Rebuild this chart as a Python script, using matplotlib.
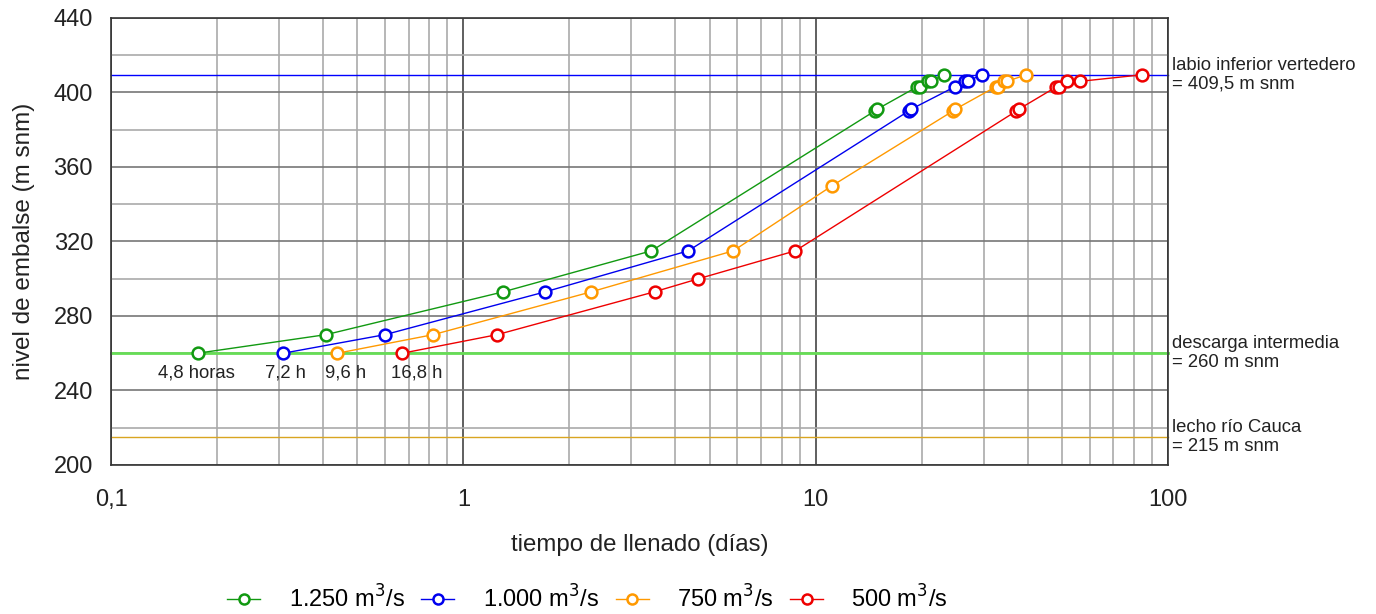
import matplotlib
matplotlib.use("Agg")
import matplotlib.pyplot as plt
from matplotlib.ticker import FixedLocator, FixedFormatter, NullFormatter

plt.rcParams['font.family'] = ['Liberation Sans', 'DejaVu Sans']

# ---------------- data ----------------
series_labels = ["1.250 m$^3$/s", "1.000 m$^3$/s", "750 m$^3$/s", "500 m$^3$/s"]
series_colors = ["#119911", "#0000ee", "#ff9900", "#ee0000"]

green_x = [0.176, 0.408, 1.30, 3.42, 14.70, 14.94, 19.40, 19.73, 20.9, 21.27, 23.08]
green_y = [260, 270, 293, 315, 390, 391, 403, 403, 406, 406, 409.5]

blue_x = [0.308, 0.600, 1.71, 4.35, 18.35, 18.66, 24.8, 26.5, 27.0, 29.6]
blue_y = [260, 270, 293, 315, 390, 391, 403, 406, 406, 409.5]

orange_x = [0.439, 0.822, 2.31, 5.84, 11.15, 24.5, 24.9, 32.4, 32.9, 34.3, 34.9, 39.6]
orange_y = [260, 270, 293, 315, 350, 390, 391, 403, 403, 406, 406, 409.5]

red_x = [0.671, 1.249, 3.49, 4.65, 8.76, 37.1, 37.7, 48.2, 49.0, 51.7, 56.4, 84.4]
red_y = [260, 270, 293, 300, 315, 390, 391, 403, 403, 406, 406, 409.5]

start_labels = ["4,8 horas", "7,2 h", "9,6 h", "16,8 h"]

ref_levels = [409.5, 260, 215]
ref_colors = ["#0000ff", "#66dd55", "#d9a521"]
ref_texts = ["labio inferior vertedero\n= 409,5 m snm",
             "descarga intermedia\n= 260 m snm",
             "lecho río Cauca\n= 215 m snm"]

x_ticks = [0.1, 1, 10, 100]
x_ticklabels = ["0,1", "1", "10", "100"]
y_ticks = [200, 240, 280, 320, 360, 400, 440]

# ---------------- figure ----------------
fig = plt.figure(figsize=(13.76, 6.14), dpi=100)
ax = fig.add_axes([0.0807, 0.2427, 0.7681, 0.728])
ax.set_xscale("log")
ax.set_xlim(0.1, 100)
ax.set_ylim(200, 440)

# grid
minor_x = [m * 10.0**e for e in (-1, 0, 1) for m in range(2, 10)]
ax.xaxis.set_major_locator(FixedLocator(x_ticks))
ax.xaxis.set_major_formatter(FixedFormatter(x_ticklabels))
ax.xaxis.set_minor_locator(FixedLocator(minor_x))
ax.xaxis.set_minor_formatter(NullFormatter())
ax.yaxis.set_major_locator(FixedLocator(y_ticks))
ax.yaxis.set_minor_locator(FixedLocator(list(range(220, 440, 40))))
ax.grid(which="major", axis="x", color="#444444", lw=1.2)
ax.grid(which="minor", axis="x", color="#aaaaaa", lw=1.2)
ax.grid(which="major", axis="y", color="#777777", lw=1.2)
ax.grid(which="minor", axis="y", color="#aaaaaa", lw=1.2)
ax.set_axisbelow(True)
for s in ax.spines.values():
    s.set_color("#333333")
    s.set_linewidth(1.2)
ax.tick_params(which="both", length=0)
ax.tick_params(axis="y", labelsize=17, pad=13, labelcolor="#222222")
ax.tick_params(axis="x", labelsize=17, pad=17, labelcolor="#222222")

# reference lines
for lvl, col, txt in zip(ref_levels, ref_colors, ref_texts):
    lw = 2.0 if lvl == 260 else 1.0
    ax.axhline(lvl, color=col, lw=lw, zorder=2, clip_on=False)
    ax.text(1.004, lvl, txt, transform=ax.get_yaxis_transform(), ha="left",
            va="center", fontsize=13.3, color="#222222", linespacing=1.15)

# series
all_x = [green_x, blue_x, orange_x, red_x]
all_y = [green_y, blue_y, orange_y, red_y]
handles = []
for xs, ys, col, lab in zip(all_x, all_y, series_colors, series_labels):
    h, = ax.plot(xs, ys, color=col, lw=1.0, marker="o", markersize=8.5,
                 markerfacecolor="white", markeredgecolor=col,
                 markeredgewidth=1.8, label=lab, zorder=4)
    handles.append(h)

# start annotations
offsets = [-1, 2, 8, 14]
for xs, ys, lab, dx in zip(all_x, all_y, start_labels, offsets):
    ax.annotate(lab, (xs[0], ys[0]), xytext=(dx * 0.72, -14.5),
                textcoords="offset points", ha="center", va="center",
                fontsize=13.3, color="#222222")

ax.set_xlabel("tiempo de llenado (días)", fontsize=17.3, labelpad=17, color="#222222")
ax.set_ylabel("nivel de embalse (m snm)", fontsize=17.5, labelpad=13, color="#222222")

fig.legend(handles=handles, loc="center", bbox_to_anchor=(0.427, 0.025),
           ncol=4, frameon=False, fontsize=17, handlelength=1.4,
           columnspacing=0.7, handletextpad=1.2, markerscale=0.85)

fig.savefig("out.png", dpi=100)
